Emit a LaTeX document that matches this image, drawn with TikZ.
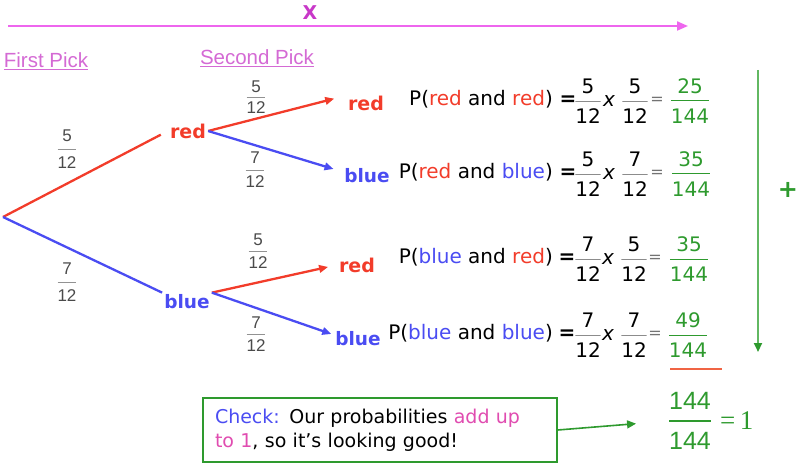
\documentclass[tikz,border=0pt]{standalone}
\usepackage{fontspec}
\setmainfont{DejaVu Sans}
\newfontfamily\libsans{Liberation Sans}
\newfontfamily\libserif{Liberation Serif}
\usetikzlibrary{arrows.meta}
\definecolor{cred}{HTML}{F23C2A}
\definecolor{cblue}{HTML}{4A4CF2}
\definecolor{cmag}{HTML}{EE66EE}
\definecolor{cmagdark}{HTML}{C838C8}
\definecolor{cpick}{HTML}{D46AD4}
\definecolor{cgreen}{HTML}{2E9A2E}
\definecolor{clgreen}{HTML}{62B862}
\definecolor{cpink}{HTML}{E04CB0}
\definecolor{cunder}{HTML}{F06444}
\definecolor{fracgray}{HTML}{4A4A4A}
\newcommand\fs[2]{\fontsize{#1}{#2}\selectfont}
\begin{document}
\begin{tikzpicture}[x=1pt,y=-1pt,
  redline/.style={draw=cred, line width=2.3pt},
  blueline/.style={draw=cblue, line width=2.3pt},
  tip/.style={-{Triangle[length=9pt,width=7.5pt]}},
  redlbl/.style={text=cred, font=\fs{19}{20}\bfseries, inner sep=2pt},
  bluelbl/.style={text=cblue, font=\fs{18.5}{20}\bfseries, inner sep=2pt},
  treefrac/.style={text=fracgray, font=\libsans\fs{17}{#1}, align=center, inner sep=0pt,
    path picture={\draw[fracgray!60, line width=0.9pt] (path picture bounding box.west) -- (path picture bounding box.east);}},
  treefrac/.default=24,
  eqtext/.style={font=\fs{20}{24}, text=black, inner sep=0pt, anchor=east},
  eqfrac/.style={font=\fs{20}{30}, text=black, align=center, inner sep=0pt,
    path picture={\draw[black!45, line width=0.8pt] (path picture bounding box.west) -- (path picture bounding box.east);}},
  resfrac/.style={font=\fs{20}{30}, text=cgreen, align=center, inner sep=0pt,
    path picture={\draw[cgreen, line width=1pt] (path picture bounding box.west) -- (path picture bounding box.east);}},
  eqsign/.style={font=\fs{20}{24}\bfseries, text=black, inner sep=0pt},
  eqsigntwo/.style={font=\fs{16}{20}, text=black!55, inner sep=0pt},
  timessign/.style={font=\fs{20}{24}\itshape, text=black, inner sep=0pt},
  picklbl/.style={font=\libsans\fs{20.5}{24}, text=cpick, inner sep=0pt},
]
\useasboundingbox (0,0) rectangle (800,465);

% top multiplication arrow
\coordinate (topl) at (8,26);
\coordinate (topr) at (688,26);
\draw[cmag, line width=2pt, -{Triangle[length=11pt,width=9pt]}] (topl) -- (topr);
\node[font=\fs{19}{20}\bfseries, text=cmagdark, inner sep=0pt] (X) at (310,13) {X};

\node[picklbl] (fp) at (46,61) {\underline{First Pick}};
\node[picklbl] (sp) at (257,58) {\underline{Second Pick}};

% tree
\coordinate (root) at (3,217);
\node[redlbl] (r1) at (188,131) {red};
\node[bluelbl] (b1) at (187,302) {blue};
\node[redlbl] (rr) at (366,103) {red};
\node[bluelbl] (rb) at (367,176) {blue};
\node[redlbl] (br) at (357,265) {red};
\node[bluelbl] (bb) at (358,339) {blue};

\draw[redline, shorten >=8pt] (root) -- (r1.west);
\draw[blueline] (root) -- (b1.north west);
\draw[redline, tip, shorten >=12pt] (r1.east) -- (rr.160);
\draw[blueline, tip, shorten >=9pt] (r1.east) -- (rb.170);
\draw[redline, tip, shorten >=9pt] (b1.north east) -- (br.west);
\draw[blueline, tip, shorten >=2pt] (b1.north east) -- (bb.170);

\node[treefrac=27] (tf1) at (67,149) {5\\12};
\node[treefrac=27] (tf2) at (67,282) {7\\12};
\node[treefrac=21] (tf3) at (256,97) {5\\12};
\node[treefrac=24] (tf4) at (255,170) {7\\12};
\node[treefrac=23] (tf5) at (258,251) {5\\12};
\node[treefrac=23] (tf6) at (256,334) {7\\12};

% equations
\node[eqtext] (p1) at (553,99) {P(\textcolor{cred}{red} and \textcolor{cred}{red})};
\node[eqsign] (e1) at (568,101) {=};
\node[eqfrac] (a1) at (588,101) {5\\12};
\node[timessign] (x1) at (609,101) {x};
\node[eqfrac] (c1) at (635,101) {5\\12};
\node[eqsigntwo] (q1) at (657,101) {=};
\node[resfrac] (s1) at (690,101) {25\\144};

\node[eqtext] (p2) at (553,172) {P(\textcolor{cred}{red} and \textcolor{cblue}{blue})};
\node[eqsign] (e2) at (568,174) {=};
\node[eqfrac] (a2) at (588,174) {5\\12};
\node[timessign] (x2) at (609,174) {x};
\node[eqfrac] (c2) at (635,174) {7\\12};
\node[eqsigntwo] (q2) at (657,174) {=};
\node[resfrac] (s2) at (691,174) {35\\144};

\node[eqtext] (p3) at (553,257) {P(\textcolor{cblue}{blue} and \textcolor{cred}{red})};
\node[eqsign] (e3) at (567,259) {=};
\node[eqfrac] (a3) at (588,259) {7\\12};
\node[timessign] (x3) at (608,259) {x};
\node[eqfrac] (c3) at (634,259) {5\\12};
\node[eqsigntwo] (q3) at (655,259) {=};
\node[resfrac] (s3) at (689,259) {35\\144};

\node[eqtext] (p4) at (553,333) {P(\textcolor{cblue}{blue} and \textcolor{cblue}{blue})};
\node[eqsign] (e4) at (567,335) {=};
\node[eqfrac] (a4) at (588,335) {7\\12};
\node[timessign] (x4) at (608,335) {x};
\node[eqfrac] (c4) at (634,335) {7\\12};
\node[eqsigntwo] (q4) at (655,335) {=};
\node[resfrac] (s4) at (688,335) {49\\144};

% sum arrow
\coordinate (sumtop) at (758,70);
\coordinate (sumbot) at (758,352);
\draw[clgreen, line width=2pt, -{Triangle[length=9pt,width=8pt,color=cgreen]}] (sumtop) -- (sumbot);
\node[font=\fs{24}{26}\bfseries, text=cgreen, inner sep=0pt] (plus) at (788,190) {+};

% underline below last result
\coordinate (ul) at (670,369);
\coordinate (ur) at (722,369);
\draw[cunder, line width=2pt] (ul) -- (ur);

% check box
\node[draw=cgreen, line width=1.5pt, minimum width=354pt, minimum height=64pt,
      text width=330pt, inner xsep=12pt, align=left, font=\fs{19}{24}] (chk) at (380,430)
  {\textcolor{cblue}{Check:} Our probabilities \textcolor{cpink}{add up}\\\textcolor{cpink}{to 1}, so it's looking good!};

\node[font=\libsans\fs{25}{40}, text=cgreen, align=center, inner sep=0pt,
  path picture={\draw[cgreen, line width=1.6pt] (path picture bounding box.west) -- (path picture bounding box.east);}]
  (fin) at (690,421) {144\\144};
\node[font=\libserif\fs{27}{28}, text=cgreen, inner sep=0pt, anchor=west] (one) at (720,421) {=\,1};

\draw[cgreen, line width=1.6pt, -{Triangle[length=9pt,width=8pt]}, shorten >=33pt] (chk.east) -- (fin.west);
\end{tikzpicture}
\end{document}
